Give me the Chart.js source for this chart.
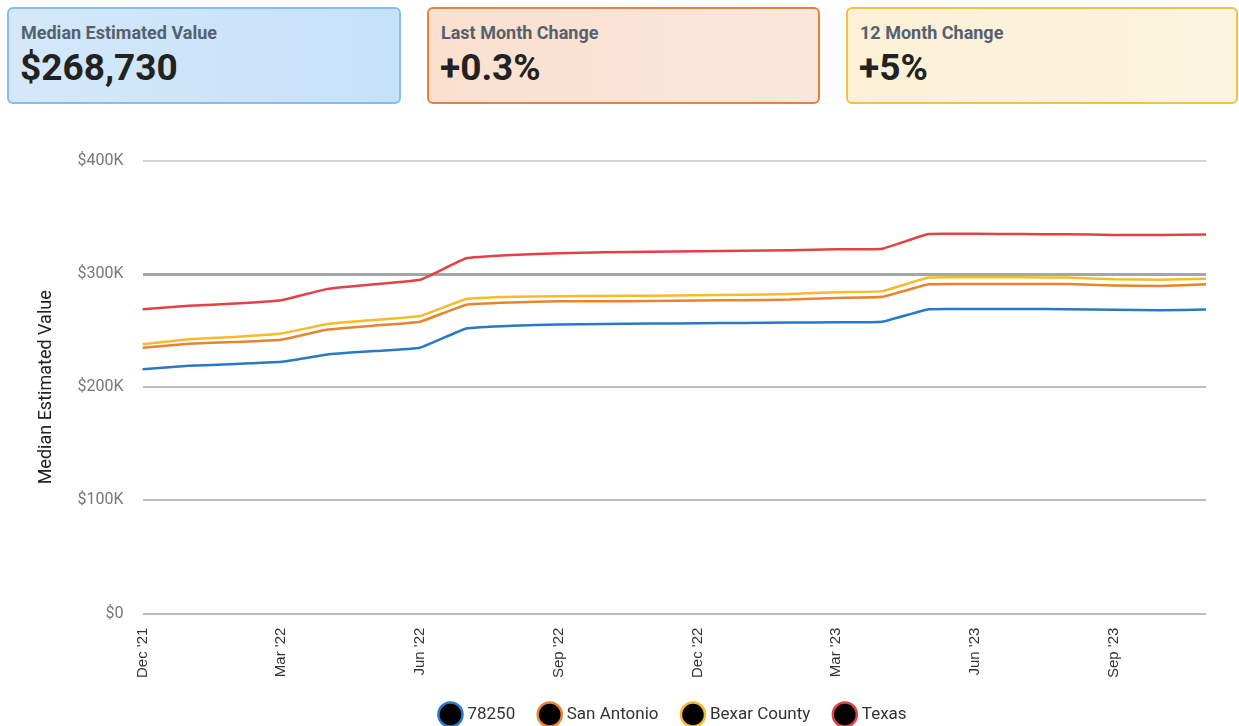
<!DOCTYPE html>
<html>
<head>
<meta charset="utf-8">
<script src="https://cdn.jsdelivr.net/npm/chart.js@4.4.1/dist/chart.umd.min.js"></script>
<style>
  body { margin: 0; background: #fff; font-family: Roboto, "Liberation Sans", sans-serif; }
  .card { position: absolute; top: 7px; height: 97px; box-sizing: border-box; border-radius: 6px; border: 2px solid; }
  .card .lbl { position: absolute; left: 12px; top: 13px; font-size: 18px; font-weight: bold; color: #56606e; }
  .card .val { position: absolute; left: 11px; top: 37px; font-size: 37px; font-weight: bold; color: #222; }
  #c1 { left: 7px; width: 394px; border-color: #86bdf0; background: linear-gradient(90deg, #d4e8f9, #c6e1fa); }
  #c2 { left: 427px; width: 393px; border-color: #e8813a; background: linear-gradient(90deg, #fbe0cf, #fae7db); }
  #c3 { left: 846px; width: 392px; border-color: #f4c043; background: linear-gradient(90deg, #fcf0d6, #fdf4df); }
  #wrap { position: absolute; left: 0; top: 120px; width: 1239px; height: 606px; }
</style>
</head>
<body>
<div class="card" id="c1"><div class="lbl">Median Estimated Value</div><div class="val">$268,730</div></div>
<div class="card" id="c2"><div class="lbl">Last Month Change</div><div class="val">+0.3%</div></div>
<div class="card" id="c3"><div class="lbl">12 Month Change</div><div class="val">+5%</div></div>
<div id="wrap"><canvas id="grafico"></canvas></div>
<script>
// meses Dec '21 .. Nov '23, valores en miles de dólares
const meses = ["Dec '21", "Jan '22", "Feb '22", "Mar '22", "Apr '22", "May '22", "Jun '22", "Jul '22",
  "Aug '22", "Sep '22", "Oct '22", "Nov '22", "Dec '22", "Jan '23", "Feb '23", "Mar '23",
  "Apr '23", "May '23", "Jun '23", "Jul '23", "Aug '23", "Sep '23", "Oct '23", "Nov '23"];
const zip78250 = [216, 219, 220.5, 222.5, 229, 232, 235, 252, 254.5, 255.5, 256, 256.3,
  256.6, 256.9, 257.2, 257.5, 258, 269, 269.2, 269.2, 269, 268.6, 268, 268.73];
const sanAntonio = [235, 238.5, 240, 242, 251, 254.5, 258, 273, 275, 276, 276, 276.3,
  276.7, 277, 277.5, 279, 280, 291, 291.3, 291.3, 291.2, 290, 289.5, 291];
const bexar = [238, 242.5, 244.5, 247.5, 256, 259.5, 263, 278, 280, 280.5, 280.7, 281,
  281.3, 281.7, 282.5, 284, 285, 297, 297.2, 297.2, 297, 295.5, 295, 296];
const texas = [269, 272, 274, 277, 287, 291, 295, 314, 317, 318.5, 319.3, 319.8,
  320.2, 320.6, 321.2, 322, 322.5, 335.5, 335.6, 335.5, 335.2, 334.7, 334.5, 335];
const yTicks = [0, 100, 200, 300, 400];

function serie(label, data, color) {
  return {
    label: label,
    data: data,
    borderColor: color,
    backgroundColor: '#000',
    borderWidth: 2.5,
    pointRadius: 0,
    tension: 0.1,
    fill: false
  };
}

// acorta la caja de la leyenda para bajarla un poco
const ajusteLeyenda = {
  id: 'ajusteLeyenda',
  beforeInit(chart) {
    const fit = chart.legend.fit;
    chart.legend.fit = function () {
      fit.bind(chart.legend)();
      this.height -= 7;
    };
  }
};

const ctx = document.getElementById('grafico').getContext('2d');
const chart = new Chart(ctx, {
  type: 'line',
  data: {
    labels: meses,
    datasets: [
      serie('78250', zip78250, '#2a78c8'),
      serie('San Antonio', sanAntonio, '#e8832f'),
      serie('Bexar County', bexar, '#f6bb2a'),
      serie('Texas', texas, '#e54046')
    ]
  },
  plugins: [ajusteLeyenda],
  options: {
    responsive: true,
    maintainAspectRatio: false,
    animation: false,
    layout: { padding: { top: 41, right: 33, left: 35, bottom: 0 } },
    plugins: {
      tooltip: { enabled: false },
      legend: {
        position: 'bottom',
        fullSize: false,
        labels: {
          usePointStyle: true,
          pointStyle: 'circle',
          boxWidth: 17,
          boxHeight: 17,
          padding: 26,
          color: '#333',
          font: { family: 'Roboto', size: 17 }
        }
      }
    },
    scales: {
      x: {
        offset: false,
        grid: { display: false },
        border: { display: false },
        afterFit: axis => { axis.height -= 4; },
        ticks: {
          autoSkip: false,
          minRotation: 90,
          maxRotation: 90,
          padding: 6,
          color: '#333',
          font: { family: 'Liberation Sans', size: 15 },
          callback: (v, i) => (i % 3 === 0 ? meses[i] : '')
        }
      },
      y: {
        min: 0,
        max: 400,
        afterBuildTicks: axis => { axis.ticks = yTicks.map(v => ({ value: v })); },
        border: { display: false },
        grid: {
          drawTicks: false,
          color: c => (c.tick && c.tick.value === 300 ? '#a3a7a5' : (c.tick && c.tick.value === 400 ? '#d4d4d4' : '#bdbdbd')),
          lineWidth: c => (c.tick && c.tick.value === 300 ? 3 : 2)
        },
        ticks: {
          padding: 19,
          color: '#777',
          font: { family: 'Roboto', size: 16 },
          callback: v => (v === 0 ? '$0' : '$' + v + 'K')
        },
        title: {
          display: true,
          text: 'Median Estimated Value',
          color: '#222',
          font: { family: 'Roboto', size: 18 },
          padding: 1
        }
      }
    }
  }
});
</script>
</body>
</html>
